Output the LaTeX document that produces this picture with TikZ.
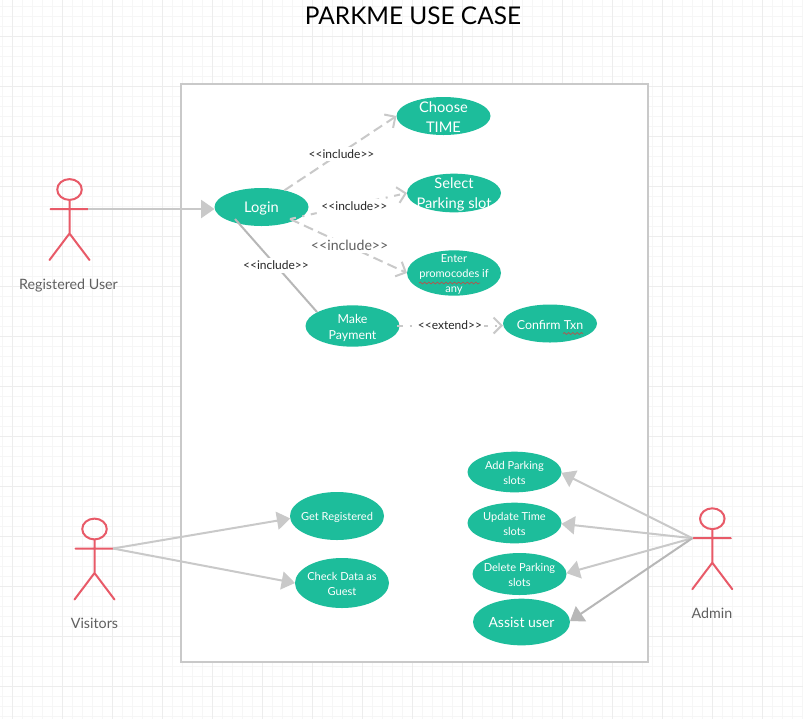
\documentclass[tikz,border=0pt]{standalone}
\usepackage{fontspec}
\setmainfont{Lato}
\usetikzlibrary{shapes.geometric,arrows.meta,decorations.pathmorphing}
\definecolor{teal}{HTML}{1DBD9B}
\definecolor{actorred}{HTML}{E85A68}
\definecolor{linegray}{HTML}{C9C9C9}
\definecolor{darkgray}{HTML}{B7B7B7}
\definecolor{txtgray}{HTML}{5F5F5F}
\definecolor{minorgrid}{HTML}{F6F6F6}
\definecolor{majorgrid}{HTML}{EDEDED}
\definecolor{squiggle}{HTML}{B0564F}
\tikzset{
  x=0.75pt,y=-0.75pt,
  usecase/.style={ellipse,fill=teal,text=white,inner sep=-25pt,outer sep=0pt,align=center},
  textdown/.style={execute at begin node={\leavevmode\rule{0pt}{#1}}},
  normalcase/.style={usecase,minimum width=70.5pt,font=\fontsize{8.3}{11.2}\selectfont,textdown=7.9pt},
  paycase/.style={usecase,minimum width=70.5pt,font=\fontsize{9.3}{12}\selectfont,textdown=9.7pt},
  bigcase/.style={usecase,minimum width=70.5pt,font=\fontsize{11}{15}\selectfont,textdown=24.6pt},
  stereo/.style={fill=white,inner xsep=1.5pt,inner ysep=2pt,text=black!85,font=\fontsize{9}{10}\selectfont},
  conn/.style={draw=linegray,line width=1.5pt},
  solidtip/.style={-{Triangle[length=10pt,width=13.5pt]}},
  opentip/.style={-{Straight Barb[length=6pt,width=12pt,line width=1.5pt]}},
  dashA/.style={dash pattern=on 7.5pt off 4pt},
  dashB/.style={dash pattern=on 4.5pt off 5pt on 1.5pt off 5pt},
  actorname/.style={text=txtgray,font=\fontsize{10.7}{12}\selectfont},
  wavy/.style={squiggle,line width=.55pt,decorate,decoration={snake,amplitude=.7pt,segment length=3.2pt}},
  actor/.pic={
    \draw[actorred,line width=1.5pt,line cap=round]
      (0,0) ellipse [x radius=9.2pt,y radius=7.8pt]
      (0,10.5) -- (0,44)
      (-19,19.5) -- (18.5,19.5)
      (-20,70.5) -- (0,44) -- (20,70.5);
    \coordinate (-hand) at (18.5,19.5);
    \coordinate (-lefthand) at (-20,19.5);
  }
}
\begin{document}
\begin{tikzpicture}
\useasboundingbox (0,0) rectangle (803,719);
\fill[white] (0,0) rectangle (803,719);
\foreach \k in {0,...,80}{\draw[minorgrid,line width=.75pt] ({2.7+10*\k},0) -- ({2.7+10*\k},719);}
\foreach \k in {0,...,72}{\draw[minorgrid,line width=.75pt] (0,{6+10*\k}) -- (803,{6+10*\k});}
\foreach \k in {0,...,16}{\draw[majorgrid,line width=.75pt] ({12.7+50*\k},0) -- ({12.7+50*\k},719);}
\foreach \k in {0,...,14}{\draw[majorgrid,line width=.75pt] (0,{36+50*\k}) -- (803,{36+50*\k});}

\node[text=black,font=\fontsize{18.3}{22}\selectfont] (title) at (413,16) {PARKME USE CASE};
\node[draw=linegray,fill=white,line width=1.5pt,minimum width=350.25pt,minimum height=433.5pt,inner sep=0pt,outer sep=0pt] (system) at (414.5,373) {};

\node[usecase,minimum width=70.5pt,minimum height=28.5pt,font=\fontsize{11}{15}\selectfont,textdown=10.3pt] (login) at (261.5,207) {Login};
\node[bigcase,minimum height=28.5pt,textdown=24pt] (choose) at (443.5,116) {Choose\\TIME};
\node[bigcase,minimum height=29pt] (select) at (454,193) {Select\\Parking slot};
\node[normalcase,minimum height=34pt,textdown=30.7pt] (enter) at (454,273) {Enter\\promocodes if\\any};
\node[paycase,minimum height=31pt,textdown=22pt] (make) at (352.5,326) {Make\\Payment};
\node[paycase,minimum height=28.5pt] (confirm) at (550,323.5) {Confirm Txn};
\node[normalcase,minimum height=30.5pt,textdown=18.8pt] (add) at (514.5,472) {Add Parking\\slots};
\node[normalcase,minimum height=30.5pt,textdown=18.8pt] (update) at (514.5,523) {Update Time\\slots};
\node[normalcase,minimum height=31.5pt,textdown=18.8pt] (delete) at (519.5,574) {Delete Parking\\slots};
\node[usecase,minimum width=72.75pt,minimum height=35pt,font=\fontsize{10.5}{13}\selectfont] (assist) at (521.5,622) {Assist user};
\node[normalcase,minimum height=36pt] (getreg) at (337,516) {Get Registered};
\node[normalcase,minimum height=37.5pt,textdown=18.8pt] (check) at (342,583) {Check Data as\\Guest};

\pic (ru) at (69.5,189.5) {actor};
\pic (vis) at (94.5,529) {actor};
\pic (adm) at (712.3,518.7) {actor};
\node[actorname] (runame) at (68.5,286) {Registered User};
\node[actorname] (visname) at (94.5,623) {Visitors};
\node[actorname] (admname) at (712,613) {Admin};

\coordinate (loginSE) at (290,219);
\coordinate (loginSW) at (235,219);
\coordinate (makeE) at (397,325.5);
\coordinate (makeNW) at (317,312);
\coordinate (confirmW) at (503,325.5);

\draw[conn,solidtip] (ru-hand) -- (ru-hand -| login.west);
\draw[conn,dashA,opentip] (login.36) -- node[stereo,pos=.51,yshift=-1.2pt] (l1) {<{}<include>{}>} (choose.180);
\draw[conn,dashB,opentip] (loginSE) -- node[stereo,pos=.55,yshift=-1.2pt] (l2) {<{}<include>{}>} (select.180);
\draw[conn,dashA,opentip] (loginSE) -- node[stereo,pos=.51,yshift=.75pt,text=txtgray,font=\fontsize{10.6}{12}\selectfont] (l3) {<{}<include>{}>} (enter.180);
\draw[draw=darkgray,line width=1.5pt] (loginSW) -- node[stereo,pos=.5] (l4) {<{}<include>{}>} (makeNW);
\draw[conn,dashB,opentip] (makeE) -- node[stereo,pos=.5] (l5) {<{}<extend>{}>} (confirmW);

\draw[conn,solidtip] (vis-hand) -- (getreg.183);
\draw[conn,solidtip] (vis-hand) -- (check.180);
\draw[conn,solidtip] (adm-lefthand) -- (add.-1);
\draw[conn,solidtip] (adm-lefthand) -- (update.-1);
\draw[conn,solidtip] (adm-lefthand) -- (delete.1);
\draw[draw=darkgray,line width=1.5pt,solidtip] (adm-lefthand) -- (assist.1);

\draw[wavy] (419,283) -- (480,283);
\draw[wavy] (563,333.5) -- (583,333.5);
\end{tikzpicture}
\end{document}
